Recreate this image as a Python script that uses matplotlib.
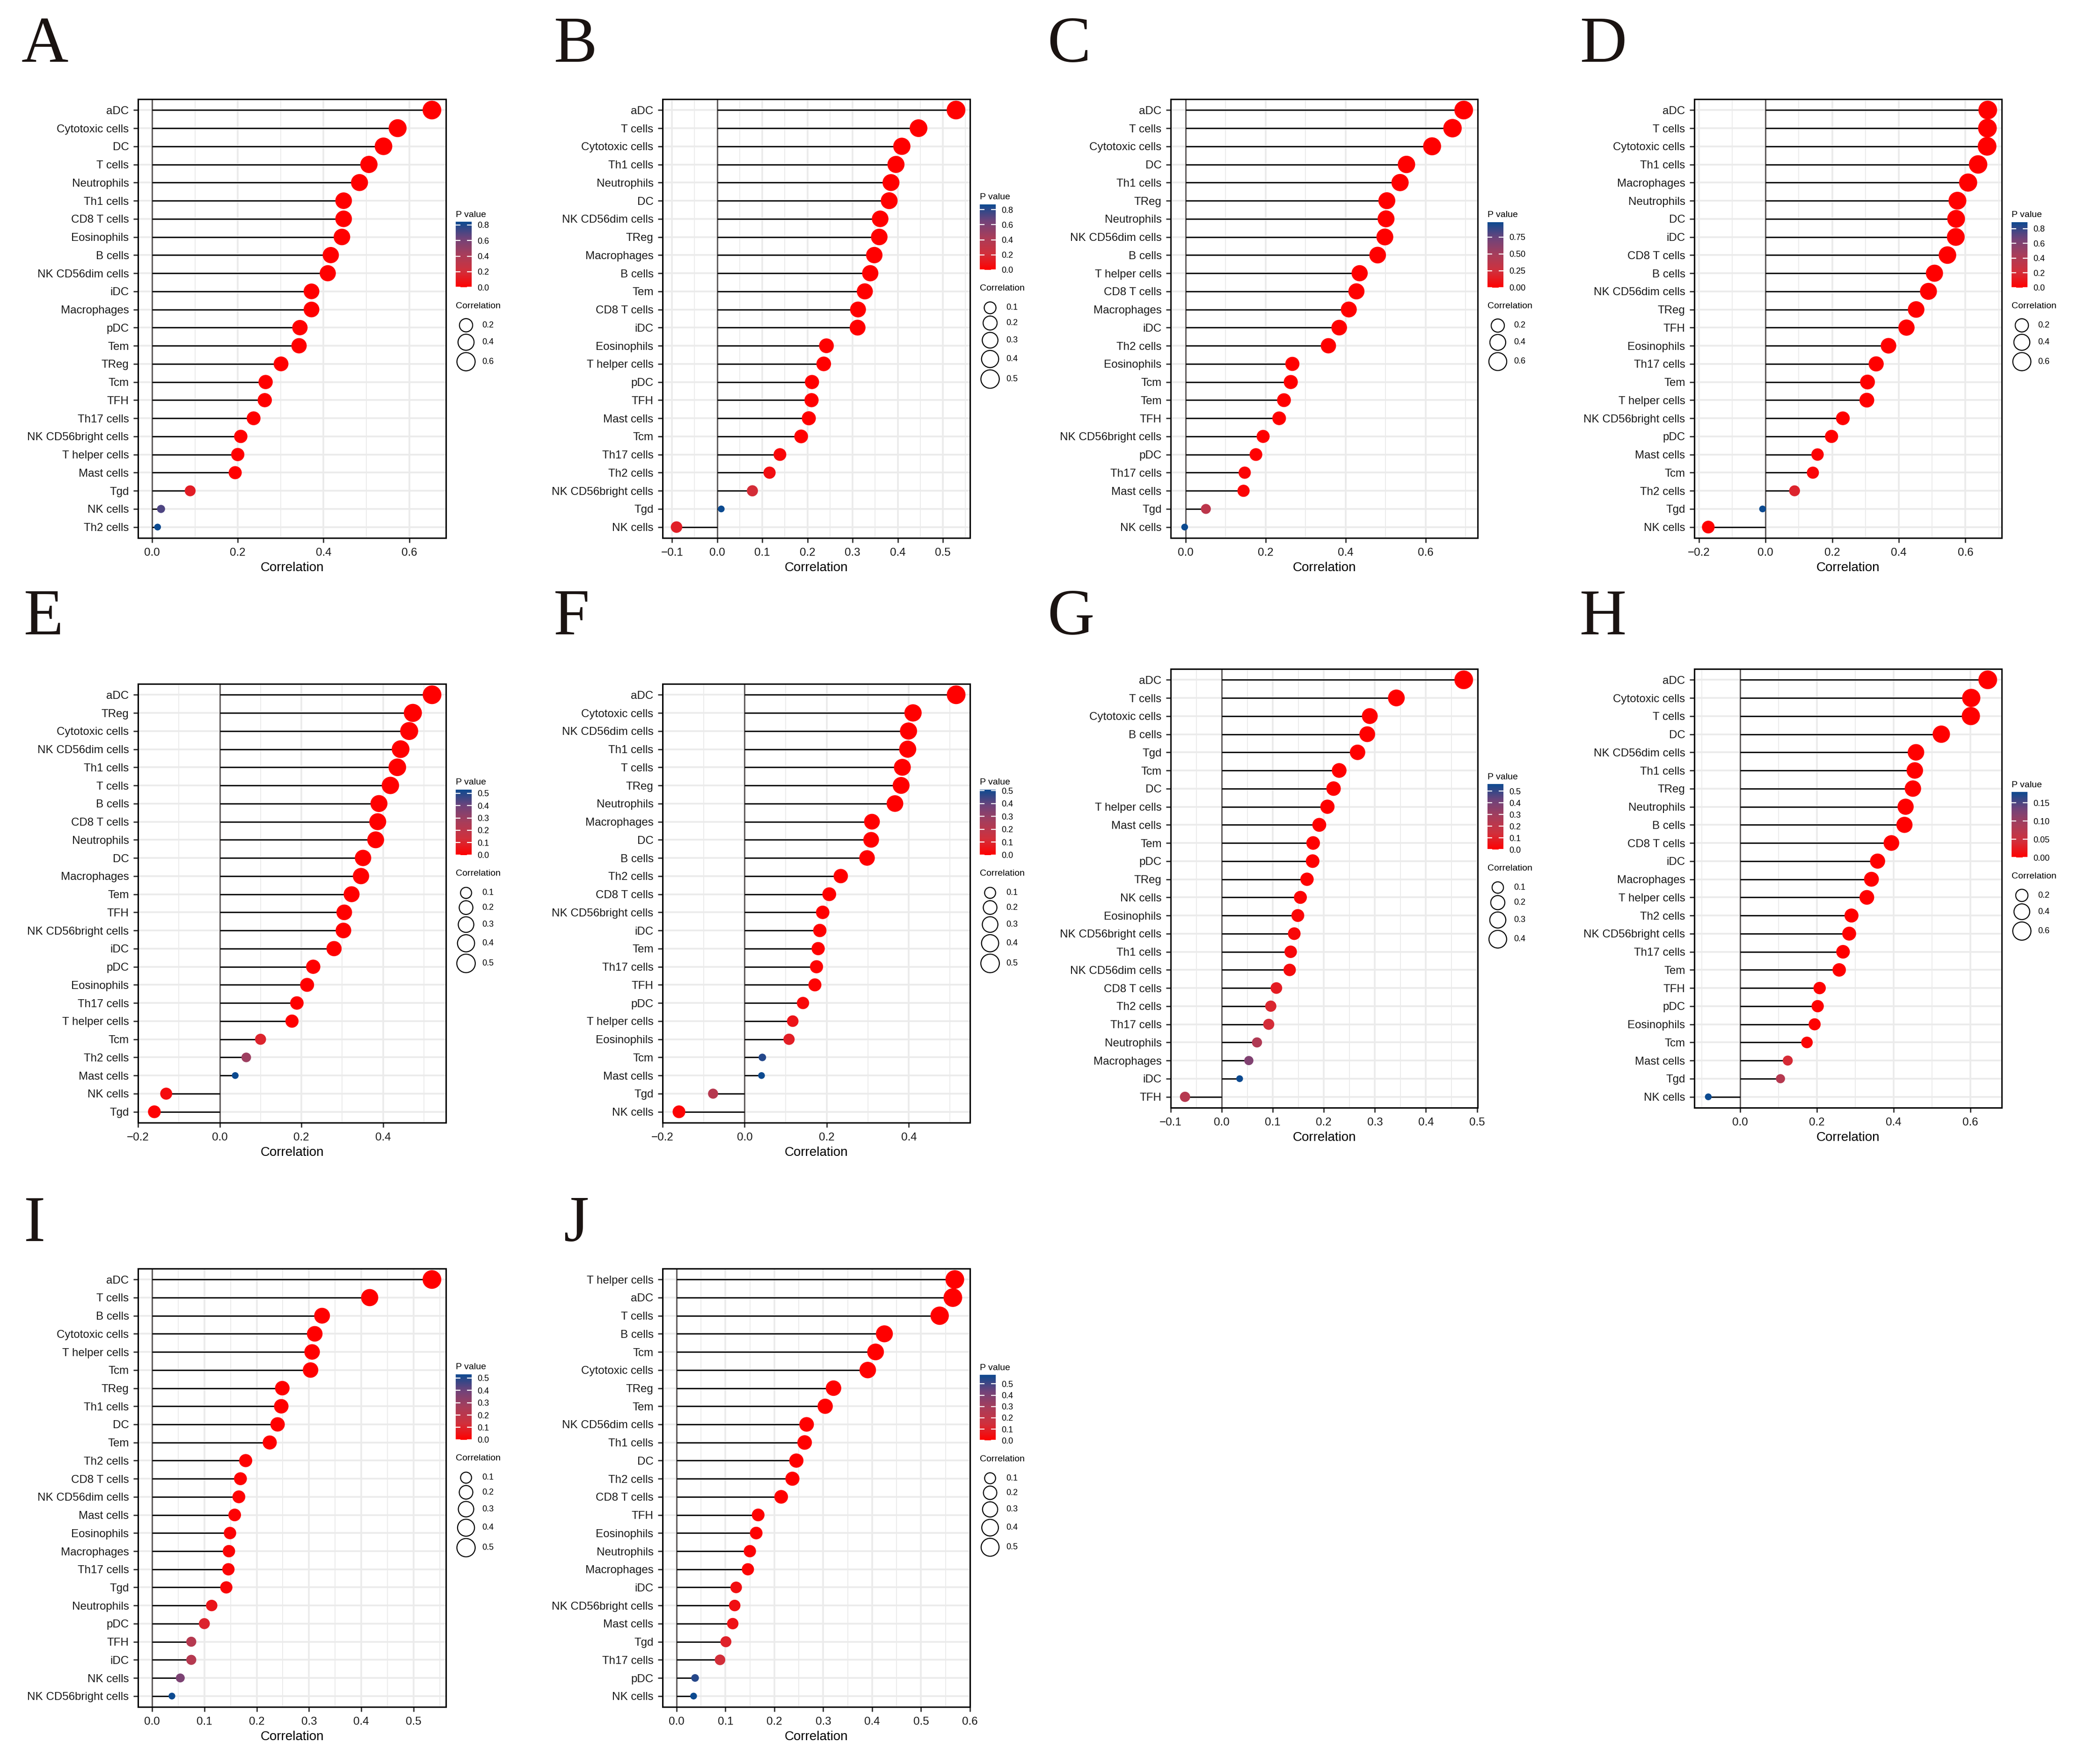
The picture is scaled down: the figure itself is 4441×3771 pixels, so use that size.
import numpy as np
import matplotlib
matplotlib.use("Agg")
import matplotlib.pyplot as plt
from matplotlib.colors import LinearSegmentedColormap, Normalize
from matplotlib.cm import ScalarMappable

plt.rcParams["font.family"] = ["Liberation Sans", "DejaVu Sans"]

W, H = 4441, 3771

# ---- data ----
cells_A = ["aDC", "Cytotoxic cells", "DC", "T cells", "Neutrophils", "Th1 cells", "CD8 T cells",
           "Eosinophils", "B cells", "NK CD56dim cells", "iDC", "Macrophages", "pDC", "Tem", "TReg",
           "Tcm", "TFH", "Th17 cells", "NK CD56bright cells", "T helper cells", "Mast cells", "Tgd",
           "NK cells", "Th2 cells"]
cor_A = [0.653, 0.573, 0.540, 0.506, 0.484, 0.447, 0.447, 0.443, 0.417, 0.410, 0.372, 0.372,
         0.345, 0.343, 0.301, 0.265, 0.263, 0.237, 0.207, 0.200, 0.194, 0.089, 0.021, 0.013]
p_A = [0.000, 0.000, 0.000, 0.000, 0.000, 0.000, 0.000, 0.000, 0.000, 0.000, 0.000, 0.000,
       0.000, 0.000, 0.000, 0.000, 0.000, 0.000, 0.001, 0.001, 0.002, 0.13, 0.70, 0.84]

cells_B = ["aDC", "T cells", "Cytotoxic cells", "Th1 cells", "Neutrophils", "DC", "NK CD56dim cells",
           "TReg", "Macrophages", "B cells", "Tem", "CD8 T cells", "iDC", "Eosinophils",
           "T helper cells", "pDC", "TFH", "Mast cells", "Tcm", "Th17 cells", "Th2 cells",
           "NK CD56bright cells", "Tgd", "NK cells"]
cor_B = [0.529, 0.446, 0.409, 0.396, 0.385, 0.381, 0.361, 0.359, 0.348, 0.339, 0.327, 0.312,
         0.311, 0.242, 0.236, 0.210, 0.209, 0.203, 0.186, 0.139, 0.116, 0.078, 0.009, -0.090]
p_B = [0.000, 0.000, 0.000, 0.000, 0.000, 0.000, 0.000, 0.000, 0.000, 0.000, 0.000, 0.000,
       0.000, 0.000, 0.000, 0.001, 0.001, 0.001, 0.003, 0.03, 0.06, 0.20, 0.87, 0.14]

cells_C = ["aDC", "T cells", "Cytotoxic cells", "DC", "Th1 cells", "TReg", "Neutrophils",
           "NK CD56dim cells", "B cells", "T helper cells", "CD8 T cells", "Macrophages", "iDC",
           "Th2 cells", "Eosinophils", "Tcm", "Tem", "TFH", "NK CD56bright cells", "pDC",
           "Th17 cells", "Mast cells", "Tgd", "NK cells"]
cor_C = [0.695, 0.667, 0.616, 0.552, 0.536, 0.503, 0.501, 0.498, 0.480, 0.435, 0.427, 0.408,
         0.384, 0.357, 0.267, 0.263, 0.246, 0.234, 0.194, 0.176, 0.148, 0.145, 0.051, -0.002]
p_C = [0.000, 0.000, 0.000, 0.000, 0.000, 0.000, 0.000, 0.000, 0.000, 0.000, 0.000, 0.000,
       0.000, 0.000, 0.000, 0.000, 0.000, 0.000, 0.003, 0.006, 0.02, 0.02, 0.36, 0.97]

cells_D = ["aDC", "T cells", "Cytotoxic cells", "Th1 cells", "Macrophages", "Neutrophils", "DC",
           "iDC", "CD8 T cells", "B cells", "NK CD56dim cells", "TReg", "TFH", "Eosinophils",
           "Th17 cells", "Tem", "T helper cells", "NK CD56bright cells", "pDC", "Mast cells", "Tcm",
           "Th2 cells", "Tgd", "NK cells"]
cor_D = [0.667, 0.666, 0.665, 0.638, 0.608, 0.576, 0.572, 0.571, 0.546, 0.507, 0.489, 0.452,
         0.423, 0.369, 0.332, 0.306, 0.304, 0.232, 0.198, 0.156, 0.142, 0.087, -0.009, -0.172]
p_D = [0.000, 0.000, 0.000, 0.000, 0.000, 0.000, 0.000, 0.000, 0.000, 0.000, 0.000, 0.000,
       0.000, 0.000, 0.000, 0.000, 0.000, 0.000, 0.002, 0.015, 0.025, 0.17, 0.89, 0.007]

cells_E = ["aDC", "TReg", "Cytotoxic cells", "NK CD56dim cells", "Th1 cells", "T cells", "B cells",
           "CD8 T cells", "Neutrophils", "DC", "Macrophages", "Tem", "TFH", "NK CD56bright cells",
           "iDC", "pDC", "Eosinophils", "Th17 cells", "T helper cells", "Tcm", "Th2 cells",
           "Mast cells", "NK cells", "Tgd"]
cor_E = [0.520, 0.473, 0.464, 0.443, 0.435, 0.418, 0.390, 0.387, 0.382, 0.351, 0.346, 0.323,
         0.305, 0.303, 0.280, 0.229, 0.214, 0.189, 0.177, 0.100, 0.065, 0.038, -0.131, -0.160]
p_E = [0.000, 0.000, 0.000, 0.000, 0.000, 0.000, 0.000, 0.000, 0.000, 0.000, 0.000, 0.000,
       0.000, 0.000, 0.000, 0.000, 0.001, 0.002, 0.003, 0.10, 0.29, 0.53, 0.03, 0.008]

cells_F = ["aDC", "Cytotoxic cells", "NK CD56dim cells", "Th1 cells", "T cells", "TReg",
           "Neutrophils", "Macrophages", "DC", "B cells", "Th2 cells", "CD8 T cells",
           "NK CD56bright cells", "iDC", "Tem", "Th17 cells", "TFH", "pDC", "T helper cells",
           "Eosinophils", "Tcm", "Mast cells", "Tgd", "NK cells"]
cor_F = [0.515, 0.410, 0.399, 0.397, 0.384, 0.381, 0.366, 0.310, 0.308, 0.298, 0.234, 0.206,
         0.190, 0.183, 0.179, 0.175, 0.171, 0.142, 0.117, 0.108, 0.043, 0.041, -0.077, -0.160]
p_F = [0.000, 0.000, 0.000, 0.000, 0.000, 0.000, 0.000, 0.000, 0.000, 0.000, 0.000, 0.001,
       0.002, 0.003, 0.003, 0.004, 0.004, 0.02, 0.05, 0.08, 0.48, 0.51, 0.21, 0.008]

cells_G = ["aDC", "T cells", "Cytotoxic cells", "B cells", "Tgd", "Tcm", "DC", "T helper cells",
           "Mast cells", "Tem", "pDC", "TReg", "NK cells", "Eosinophils", "NK CD56bright cells",
           "Th1 cells", "NK CD56dim cells", "CD8 T cells", "Th2 cells", "Th17 cells", "Neutrophils",
           "Macrophages", "iDC", "TFH"]
cor_G = [0.474, 0.342, 0.290, 0.285, 0.266, 0.230, 0.219, 0.207, 0.191, 0.179, 0.178, 0.167,
         0.154, 0.149, 0.142, 0.135, 0.133, 0.107, 0.096, 0.092, 0.069, 0.053, 0.035, -0.072]
p_G = [0.000, 0.000, 0.000, 0.000, 0.000, 0.000, 0.000, 0.001, 0.002, 0.004, 0.004, 0.006,
       0.01, 0.015, 0.02, 0.025, 0.03, 0.08, 0.11, 0.13, 0.25, 0.38, 0.56, 0.23]

cells_H = ["aDC", "Cytotoxic cells", "T cells", "DC", "NK CD56dim cells", "Th1 cells", "TReg",
           "Neutrophils", "B cells", "CD8 T cells", "iDC", "Macrophages", "T helper cells",
           "Th2 cells", "NK CD56bright cells", "Th17 cells", "Tem", "TFH", "pDC", "Eosinophils",
           "Tcm", "Mast cells", "Tgd", "NK cells"]
cor_H = [0.645, 0.602, 0.601, 0.524, 0.458, 0.455, 0.450, 0.431, 0.428, 0.394, 0.358, 0.342,
         0.330, 0.290, 0.284, 0.268, 0.258, 0.207, 0.202, 0.194, 0.174, 0.124, 0.105, -0.083]
p_H = [0.000, 0.000, 0.000, 0.000, 0.000, 0.000, 0.000, 0.000, 0.000, 0.000, 0.000, 0.000,
       0.000, 0.000, 0.000, 0.000, 0.000, 0.001, 0.001, 0.002, 0.004, 0.04, 0.075, 0.18]

cells_I = ["aDC", "T cells", "B cells", "Cytotoxic cells", "T helper cells", "Tcm", "TReg",
           "Th1 cells", "DC", "Tem", "Th2 cells", "CD8 T cells", "NK CD56dim cells", "Mast cells",
           "Eosinophils", "Macrophages", "Th17 cells", "Tgd", "Neutrophils", "pDC", "TFH", "iDC",
           "NK cells", "NK CD56bright cells"]
cor_I = [0.535, 0.416, 0.325, 0.311, 0.306, 0.303, 0.249, 0.247, 0.240, 0.225, 0.179, 0.169,
         0.166, 0.158, 0.149, 0.147, 0.146, 0.142, 0.114, 0.100, 0.075, 0.075, 0.054, 0.038]
p_I = [0.000, 0.000, 0.000, 0.000, 0.000, 0.000, 0.000, 0.000, 0.000, 0.000, 0.003, 0.005,
       0.006, 0.008, 0.01, 0.012, 0.012, 0.015, 0.06, 0.10, 0.22, 0.22, 0.37, 0.53]

cells_J = ["T helper cells", "aDC", "T cells", "B cells", "Tcm", "Cytotoxic cells", "TReg", "Tem",
           "NK CD56dim cells", "Th1 cells", "DC", "Th2 cells", "CD8 T cells", "TFH", "Eosinophils",
           "Neutrophils", "Macrophages", "iDC", "NK CD56bright cells", "Mast cells", "Tgd",
           "Th17 cells", "pDC", "NK cells"]
cor_J = [0.569, 0.565, 0.538, 0.425, 0.407, 0.391, 0.321, 0.304, 0.266, 0.262, 0.245, 0.237,
         0.214, 0.167, 0.163, 0.150, 0.146, 0.122, 0.119, 0.115, 0.101, 0.089, 0.038, 0.035]
p_J = [0.000, 0.000, 0.000, 0.000, 0.000, 0.000, 0.000, 0.000, 0.000, 0.000, 0.000, 0.000,
       0.001, 0.005, 0.006, 0.01, 0.01, 0.04, 0.045, 0.05, 0.10, 0.14, 0.54, 0.58]

# axis ticks, colourbar ticks and size-legend breaks per panel
xticks_A = [0.0, 0.2, 0.4, 0.6]
xticks_B = [-0.1, 0.0, 0.1, 0.2, 0.3, 0.4, 0.5]
xticks_C = [0.0, 0.2, 0.4, 0.6]
xticks_D = [-0.2, 0.0, 0.2, 0.4, 0.6]
xticks_E = [-0.2, 0.0, 0.2, 0.4]
xticks_F = [-0.2, 0.0, 0.2, 0.4]
xticks_G = [-0.1, 0.0, 0.1, 0.2, 0.3, 0.4, 0.5]
xticks_H = [0.0, 0.2, 0.4, 0.6]
xticks_I = [0.0, 0.1, 0.2, 0.3, 0.4, 0.5]
xticks_J = [0.0, 0.1, 0.2, 0.3, 0.4, 0.5, 0.6]

pticks_A = ["0.0", "0.2", "0.4", "0.6", "0.8"]
pticks_B = ["0.0", "0.2", "0.4", "0.6", "0.8"]
pticks_C = ["0.00", "0.25", "0.50", "0.75"]
pticks_D = ["0.0", "0.2", "0.4", "0.6", "0.8"]
pticks_E = ["0.0", "0.1", "0.2", "0.3", "0.4", "0.5"]
pticks_F = ["0.0", "0.1", "0.2", "0.3", "0.4", "0.5"]
pticks_G = ["0.0", "0.1", "0.2", "0.3", "0.4", "0.5"]
pticks_H = ["0.00", "0.05", "0.10", "0.15"]
pticks_I = ["0.0", "0.1", "0.2", "0.3", "0.4", "0.5"]
pticks_J = ["0.0", "0.1", "0.2", "0.3", "0.4", "0.5"]

sizes_A = ["0.2", "0.4", "0.6"]
sizes_B = ["0.1", "0.2", "0.3", "0.4", "0.5"]
sizes_C = ["0.2", "0.4", "0.6"]
sizes_D = ["0.2", "0.4", "0.6"]
sizes_E = ["0.1", "0.2", "0.3", "0.4", "0.5"]
sizes_F = ["0.1", "0.2", "0.3", "0.4", "0.5"]
sizes_G = ["0.1", "0.2", "0.3", "0.4"]
sizes_H = ["0.2", "0.4", "0.6"]
sizes_I = ["0.1", "0.2", "0.3", "0.4", "0.5"]
sizes_J = ["0.1", "0.2", "0.3", "0.4", "0.5"]

panels = [
    ("A", cells_A, cor_A, p_A, xticks_A, pticks_A, sizes_A),
    ("B", cells_B, cor_B, p_B, xticks_B, pticks_B, sizes_B),
    ("C", cells_C, cor_C, p_C, xticks_C, pticks_C, sizes_C),
    ("D", cells_D, cor_D, p_D, xticks_D, pticks_D, sizes_D),
    ("E", cells_E, cor_E, p_E, xticks_E, pticks_E, sizes_E),
    ("F", cells_F, cor_F, p_F, xticks_F, pticks_F, sizes_F),
    ("G", cells_G, cor_G, p_G, xticks_G, pticks_G, sizes_G),
    ("H", cells_H, cor_H, p_H, xticks_H, pticks_H, sizes_H),
    ("I", cells_I, cor_I, p_I, xticks_I, pticks_I, sizes_I),
    ("J", cells_J, cor_J, p_J, xticks_J, pticks_J, sizes_J),
]

# panel box (left, top, right, bottom) and letter (x, baseline), in pixels
layout = {
    "A": (295, 212, 953, 1150, 46, 132),
    "B": (1416, 212, 2073, 1150, 1183, 132),
    "C": (2502, 212, 3158, 1150, 2238, 132),
    "D": (3621, 212, 4278, 1150, 3376, 132),
    "E": (295, 1462, 953, 2400, 50, 1356),
    "F": (1416, 1462, 2073, 2400, 1183, 1356),
    "G": (2502, 1430, 3158, 2368, 2238, 1356),
    "H": (3621, 1430, 4278, 2368, 3376, 1356),
    "I": (295, 2712, 953, 3649, 51, 2653),
    "J": (1416, 2712, 2073, 3649, 1204, 2653),
}

cmap = LinearSegmentedColormap.from_list(
    "pval", ["#FF0000", "#D0303C", "#A83D5A", "#70437A", "#0C4A90"])

PX = 72 / 100.0  # points per pixel at dpi 100
D_MIN, D_MAX = 14.5, 40.0


def diam(v, lo, hi):
    f = np.clip((v - lo) / (hi - lo), 0, 1)
    return D_MIN + (D_MAX - D_MIN) * np.sqrt(f)


def fmt_tick(t):
    s = f"{t:.1f}"
    if s == "-0.0":
        s = "0.0"
    return s.replace("-", "\u2212")


fig = plt.figure(figsize=(W / 100, H / 100), dpi=100)
ov = fig.add_axes([0, 0, 1, 1])
ov.set_xlim(0, W)
ov.set_ylim(H, 0)
ov.axis("off")
ov.set_zorder(10)

for key, cells, cor, pv, xticks, pticks, sizes in panels:
    left, top, right, bottom, lx, ly = layout[key]
    cor = np.array(cor)
    pv = np.array(pv)
    n = len(cells)
    ypos = np.arange(n)[::-1]

    ax = fig.add_axes([left / W, 1 - bottom / H, (right - left) / W, (bottom - top) / H])
    lo_x, hi_x = min(0, cor.min()), max(0, cor.max())
    pad = 0.05 * (hi_x - lo_x)
    ax.set_xlim(lo_x - pad, hi_x + pad)
    ax.set_ylim(-0.6, n - 0.4)

    step = xticks[1] - xticks[0]
    minors = [t - step / 2 for t in xticks] + [xticks[-1] + step / 2]
    minors = [m for m in minors if lo_x - pad < m < hi_x + pad]
    ax.set_xticks(xticks)
    ax.set_xticklabels([fmt_tick(t) for t in xticks])
    ax.set_xticks(minors, minor=True)
    ax.set_yticks(ypos)
    ax.set_yticklabels(cells)
    ax.grid(which="major", color="#EBEBEB", lw=2.6)
    ax.grid(which="minor", axis="x", color="#EBEBEB", lw=1.3)
    ax.set_axisbelow(True)
    ax.tick_params(which="major", length=7, width=2, color="#333333",
                   labelsize=17.4, labelcolor="#1A1A1A")
    ax.tick_params(axis="y", pad=7)
    ax.tick_params(axis="x", pad=8)
    ax.tick_params(which="minor", length=0)
    for sp in ax.spines.values():
        sp.set_linewidth(2.2)
        sp.set_color("black")

    ax.axvline(0, color="#5A5555", lw=2.0, zorder=1.5)
    ax.hlines(ypos, 0, cor, color="black", lw=2.0, zorder=2)

    a = np.abs(cor)
    a_lo, a_hi = a.min(), a.max()
    norm = Normalize(0, pv.max())
    d = diam(a, a_lo, a_hi)
    ax.scatter(cor, ypos, s=(d * PX) ** 2, c=pv, cmap=cmap, norm=norm,
               edgecolors="none", zorder=3, clip_on=False)

    ax.set_xlabel("Correlation", fontsize=20, color="black", va="center")
    ax.xaxis.set_label_coords(0.5, -64 / (bottom - top))

    # legend layout (pixels), centred a little above the panel centre
    svals = [float(s) for s in sizes]
    sd = [float(diam(v, a_lo, a_hi)) for v in svals]
    rel = [37 + 140 + 40 + 28]
    for i in range(1, len(sd)):
        rel.append(rel[-1] + (sd[i - 1] + sd[i]) / 2 + 5)
    total = rel[-1] + sd[-1] / 2 + 9
    block_top = (top + bottom) / 2 - 55 - total / 2
    t_title = block_top + 9
    bar_top = t_title + 15
    bar_bot = bar_top + 140
    bar_left = right + 21

    ov.text(bar_left, t_title, "P value", fontsize=14, ha="left", va="center", color="black")
    cax = fig.add_axes([bar_left / W, 1 - bar_bot / H, 34 / W, 140 / H])
    cb = fig.colorbar(ScalarMappable(norm=norm, cmap=cmap), cax=cax)
    cb.outline.set_visible(False)
    cb.set_ticks([float(t) for t in pticks])
    cb.set_ticklabels(pticks)
    cax.tick_params(direction="in", length=7, width=1.6, color="white",
                    left=True, right=True, labelleft=False, labelright=True,
                    labelsize=13, labelcolor="black", pad=8.6)

    corr_title = bar_bot + 40
    ov.text(bar_left, corr_title, "Correlation", fontsize=14, ha="left", va="center", color="black")
    cy = [block_top + r for r in rel]
    ov.scatter([right + 43] * len(cy), cy, s=[(v * PX) ** 2 for v in sd],
               facecolors="white", edgecolors="black", linewidths=1.6)
    for yy, lab in zip(cy, sizes):
        ov.text(right + 77, yy, lab, fontsize=13, ha="left", va="center", color="black")

    ov.text(lx, ly, key, fontsize=100, family=["Liberation Serif", "DejaVu Serif"],
            ha="left", va="baseline", color="#1A1311")

fig.savefig("out.png", dpi=100)
